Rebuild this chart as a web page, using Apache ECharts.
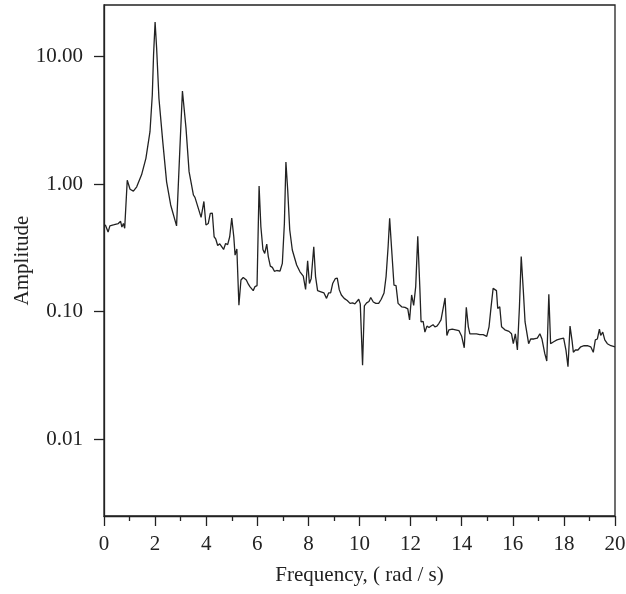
<!DOCTYPE html>
<html>
<head>
<meta charset="utf-8">
<script src="https://cdn.jsdelivr.net/npm/echarts@6/dist/echarts.min.js"></script>
<style>
  html, body { margin: 0; padding: 0; background: #fff; }
  #chart { width: 626px; height: 594px; }
</style>
</head>
<body>
<div id="chart"></div>
<script>
// frequency (rad/s) and amplitude
const freq = [
  0.05, 0.16, 0.23, 0.40, 0.56, 0.65, 0.70, 0.76, 0.81, 0.86,
  0.91, 1.02, 1.15, 1.28, 1.47, 1.64, 1.80, 1.89, 1.94, 2.00,
  2.06, 2.15, 2.30, 2.45, 2.61, 2.84, 2.97, 3.07, 3.14, 3.21,
  3.33, 3.50, 3.56, 3.80, 3.91, 3.99, 4.08, 4.16, 4.24, 4.31,
  4.37, 4.45, 4.53, 4.60, 4.68, 4.76, 4.84, 4.92, 5.00, 5.08,
  5.13, 5.20, 5.28, 5.36, 5.45, 5.57, 5.65, 5.71, 5.78, 5.84,
  5.91, 5.99, 6.07, 6.14, 6.22, 6.29, 6.37, 6.43, 6.51, 6.59,
  6.67, 6.76, 6.89, 6.98, 7.06, 7.12, 7.19, 7.27, 7.37, 7.54,
  7.67, 7.80, 7.89, 7.97, 8.04, 8.11, 8.21, 8.28, 8.36, 8.49,
  8.61, 8.71, 8.79, 8.87, 8.95, 9.05, 9.13, 9.21, 9.29, 9.40,
  9.52, 9.63, 9.73, 9.82, 9.89, 9.97, 10.03, 10.12, 10.19, 10.28,
  10.37, 10.44, 10.54, 10.64, 10.75, 10.85, 10.96, 11.04, 11.12, 11.18,
  11.26, 11.35, 11.43, 11.51, 11.65, 11.78, 11.89, 11.96, 12.04, 12.12,
  12.20, 12.28, 12.36, 12.41, 12.49, 12.56, 12.64, 12.72, 12.80, 12.88,
  12.95, 13.03, 13.11, 13.19, 13.26, 13.35, 13.42, 13.50, 13.63, 13.76,
  13.89, 14.00, 14.10, 14.18, 14.26, 14.32, 14.45, 14.58, 14.71, 14.84,
  14.98, 15.07, 15.15, 15.23, 15.28, 15.36, 15.41, 15.49, 15.56, 15.69,
  15.85, 15.95, 16.02, 16.10, 16.18, 16.26, 16.33, 16.41, 16.48, 16.54,
  16.62, 16.70, 16.83, 16.96, 17.06, 17.14, 17.25, 17.33, 17.41, 17.48,
  17.60, 17.73, 17.86, 17.99, 18.08, 18.16, 18.24, 18.32, 18.37, 18.45,
  18.55, 18.66, 18.79, 18.92, 19.05, 19.15, 19.23, 19.31, 19.39, 19.44,
  19.52, 19.60, 19.70, 19.84, 20.00
]
const amp = [
  0.48, 0.42, 0.47, 0.48, 0.49, 0.51, 0.46, 0.49, 0.45, 0.44,
  1.07, 0.91, 0.88, 0.95, 1.18, 1.59, 2.57, 4.99, 10.3, 18.6,
  11.6, 4.7, 2.15, 1.04, 0.685, 0.47, 1.9, 5.36, 5.24, 2.73,
  1.25, 0.82, 0.786, 0.548, 0.73, 0.477, 0.49, 0.589, 0.59, 0.386,
  0.372, 0.33, 0.34, 0.33, 0.307, 0.342, 0.335, 0.386, 0.54, 0.386,
  0.277, 0.31, 0.112, 0.177, 0.185, 0.177, 0.164, 0.157, 0.16, 0.146,
  0.157, 0.16, 0.964, 0.463, 0.307, 0.286, 0.338, 0.27, 0.227, 0.222,
  0.207, 0.21, 0.208, 0.239, 0.49, 1.49, 0.897, 0.436, 0.304, 0.232,
  0.205, 0.19, 0.149, 0.25, 0.166, 0.182, 0.322, 0.188, 0.146, 0.143,
  0.14, 0.127, 0.14, 0.14, 0.166, 0.181, 0.183, 0.148, 0.135, 0.127,
  0.122, 0.116, 0.117, 0.115, 0.118, 0.125, 0.115, 0.038, 0.111, 0.117,
  0.12, 0.129, 0.119, 0.116, 0.116, 0.125, 0.14, 0.188, 0.322, 0.538,
  0.304, 0.161, 0.16, 0.116, 0.109, 0.108, 0.105, 0.086, 0.135, 0.112,
  0.157, 0.39, 0.157, 0.083, 0.084, 0.069, 0.077, 0.075, 0.077, 0.079,
  0.076, 0.077, 0.081, 0.086, 0.086, 0.128, 0.065, 0.072, 0.073, 0.072,
  0.071, 0.064, 0.052, 0.108, 0.076, 0.067, 0.067, 0.067, 0.066, 0.066,
  0.064, 0.076, 0.109, 0.152, 0.156, 0.146, 0.106, 0.109, 0.076, 0.072,
  0.07, 0.067, 0.056, 0.067, 0.05, 0.109, 0.27, 0.148, 0.083, 0.082,
  0.056, 0.061, 0.061, 0.062, 0.067, 0.061, 0.047, 0.041, 0.137, 0.056,
  0.058, 0.06, 0.061, 0.062, 0.05, 0.037, 0.077, 0.059, 0.048, 0.05,
  0.05, 0.053, 0.054, 0.054, 0.053, 0.048, 0.06, 0.061, 0.073, 0.065,
  0.069, 0.06, 0.056, 0.054, 0.053
]
const yTicks = [0.01, 0.1, 1, 10]

const ink = '#222'
const font = 'Liberation Serif'

const chart = echarts.init(document.getElementById('chart'))

const option = {
  animation: false,
  grid: {
    left: 104,
    right: 11,
    top: 5,
    bottom: 78,
    show: true,
    borderColor: ink,
    borderWidth: 1.3,
    containLabel: false,
    outerBoundsMode: 'none'
  },
  xAxis: {
    type: 'value',
    min: 0,
    max: 20,
    interval: 2,
    name: 'Frequency, ( rad / s)',
    nameLocation: 'middle',
    nameGap: 49,
    nameMoveOverlap: false,
    nameTextStyle: { color: ink, fontFamily: font, fontSize: 21 },
    axisLine: { lineStyle: { color: ink, width: 1.3 } },
    axisTick: { length: 10, lineStyle: { color: ink, width: 1.3 } },
    minorTick: { show: true, splitNumber: 2, length: 5, lineStyle: { color: ink, width: 1.3 } },
    axisLabel: { color: ink, fontFamily: font, fontSize: 21, margin: 18 },
    splitLine: { show: false }
  },
  yAxis: {
    type: 'log',
    logBase: 10,
    min: 0.0025,
    max: 25.3,
    name: 'Amplitude',
    nameLocation: 'middle',
    nameGap: 71,
    nameMoveOverlap: false,
    nameTextStyle: { color: ink, fontFamily: font, fontSize: 21 },
    axisLine: { show: true, lineStyle: { color: ink, width: 1.3 } },
    axisTick: { show: true, length: 10, customValues: yTicks, lineStyle: { color: ink, width: 1.3 } },
    axisLabel: {
      color: ink,
      fontFamily: font,
      fontSize: 21,
      margin: 21,
      customValues: yTicks,
      formatter: v => Number(v).toFixed(2)
    },
    splitLine: { show: false }
  },
  series: [{
    type: 'line',
    data: freq.map((f, i) => [f, amp[i]]),
    showSymbol: false,
    lineStyle: { color: ink, width: 1.3 }
  }]
}

chart.setOption(option)
</script>
</body>
</html>
